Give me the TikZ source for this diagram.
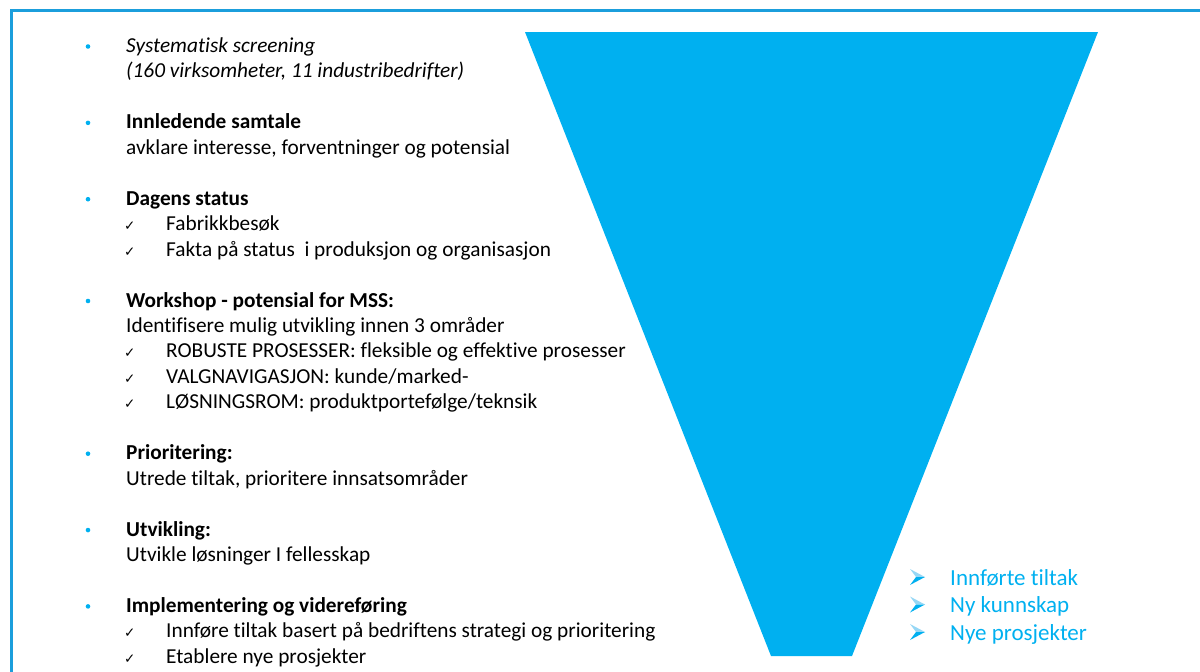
\documentclass[tikz,border=0pt]{standalone}
\usepackage{fontspec}
\setmainfont{Carlito}[Ligatures=NoCommon]
\newfontfamily\symfont{DejaVu Sans}
\definecolor{frameblue}{RGB}{27,158,220}
\definecolor{funnelblue}{RGB}{0,176,240}
\definecolor{arrowlight}{RGB}{150,215,245}
\begin{document}
\begin{tikzpicture}[x=1pt,y=-1pt,
  txt/.style={anchor=base west,inner sep=0pt,font=\fontsize{21.3}{25}\selectfont},
  hd/.style={txt,font=\fontsize{21.3}{25}\selectfont\bfseries},
  rtxt/.style={anchor=base west,inner sep=0pt,text=funnelblue,font=\fontsize{23}{27}\selectfont},
  chk/.style={anchor=base west,inner sep=0pt,font=\symfont\fontsize{13.5}{14}\selectfont}
]
\useasboundingbox (0,0) rectangle (1200,672);
% frame
\draw[frameblue,line width=3pt] (11,680) -- (11,10) -- (1210,10);
% funnel
\fill[funnelblue] (525,32) -- (1098,32) -- (852,656) -- (771,656) -- cycle;
% bullets
\foreach \n in {0,3,6,10,16,19,22}{
  \fill[funnelblue] (88,{52.5+25.45*\n-6}) circle (2.3);
}
% checks
\foreach \n/\m in {7/c1,8/c2,12/c3,13/c4,14/c5,23/c6,24/c7}{
  \node[chk] (\m) at (124,{52.5+25.45*\n}) {✓};
}
% left text
\node[txt,font=\fontsize{21.3}{25}\selectfont\itshape] (l0) at (126,52.5) {Systematisk screening};
\node[txt,font=\fontsize{21.3}{25}\selectfont\itshape] (l1) at (126,{52.5+25.45*1}) {(160 virksomheter, 11 industribedrifter)};
\node[hd] (l3) at (126,{52.5+25.45*3}) {Innledende samtale};
\node[txt] (l4) at (126,{52.5+25.45*4}) {avklare interesse, forventninger og potensial};
\node[hd] (l6) at (126,{52.5+25.45*6}) {Dagens status};
\node[txt] (l7) at (166,{52.5+25.45*7}) {Fabrikkbesøk};
\node[txt] (l8) at (166,{52.5+25.45*8}) {Fakta på status \ i produksjon og organisasjon};
\node[hd] (l10) at (126,{52.5+25.45*10}) {Workshop - potensial for MSS:};
\node[txt] (l11) at (126,{52.5+25.45*11}) {Identifisere mulig utvikling innen 3 områder};
\node[txt] (l12) at (166,{52.5+25.45*12}) {ROBUSTE PROSESSER: fleksible og effektive prosesser};
\node[txt] (l13) at (166,{52.5+25.45*13}) {VALGNAVIGASJON: kunde/marked-};
\node[txt] (l14) at (166,{52.5+25.45*14}) {LØSNINGSROM: produktportefølge/teknsik};
\node[hd] (l16) at (126,{52.5+25.45*16}) {Prioritering:};
\node[txt] (l17) at (126,{52.5+25.45*17}) {Utrede tiltak, prioritere innsatsområder};
\node[hd] (l19) at (126,{52.5+25.45*19}) {Utvikling:};
\node[txt] (l20) at (126,{52.5+25.45*20}) {Utvikle løsninger I fellesskap};
\node[hd] (l22) at (126,{52.5+25.45*22}) {Implementering og videreføring};
\node[txt] (l23) at (166,{52.5+25.45*23}) {Innføre tiltak basert på bedriftens strategi og prioritering};
\node[txt] (l24) at (166,{52.5+25.45*24}) {Etablere nye prosjekter};
% right list arrows
\foreach \yy in {577,604.5,632}{
  \fill[arrowlight] (910,\yy-8) -- (925,\yy) -- (916,\yy) -- cycle;
  \fill[funnelblue] (916,\yy) -- (925,\yy) -- (910,\yy+8) -- cycle;
}
\node[rtxt] (r1) at (950,585) {Innførte tiltak};
\node[rtxt] (r2) at (950,612.5) {Ny kunnskap};
\node[rtxt] (r3) at (950,640) {Nye prosjekter};
\end{tikzpicture}
\end{document}
